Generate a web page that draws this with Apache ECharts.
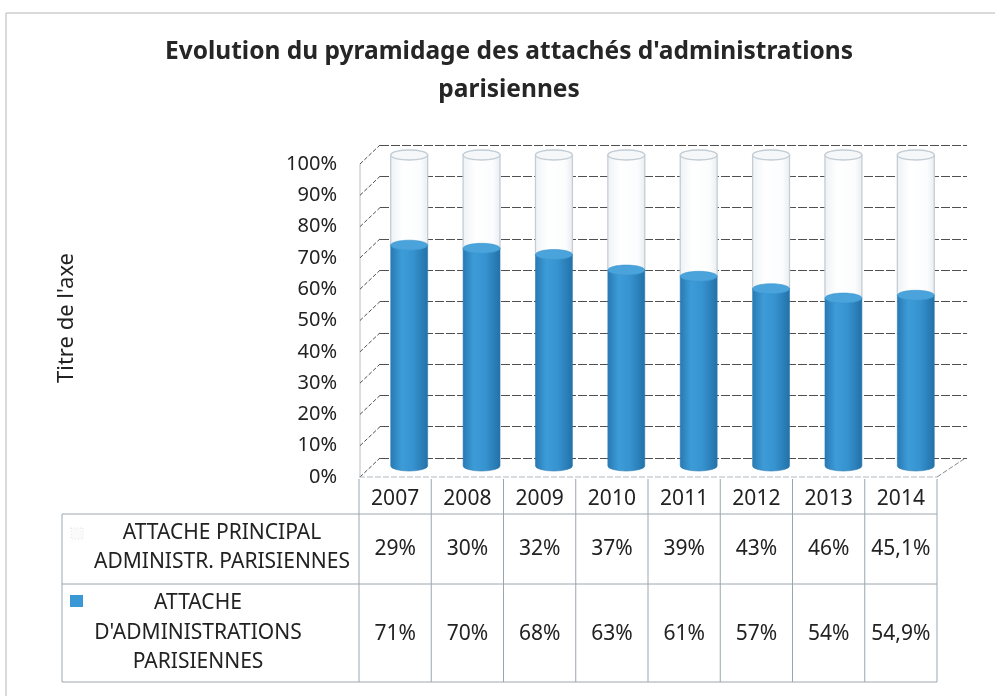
<!DOCTYPE html>
<html><head><meta charset="utf-8">
<script src="https://cdn.jsdelivr.net/npm/echarts@6/dist/echarts.min.js"></script>
<style>html,body{margin:0;padding:0;background:#fff}#c{width:995px;height:696px}</style>
</head><body><div id="c"></div>
<script>
// ---- data ----
const years = ['2007','2008','2009','2010','2011','2012','2013','2014'];
const principal = [29, 30, 32, 37, 39, 43, 46, 45.1];   // ATTACHE PRINCIPAL ADMINISTR. PARISIENNES
const attache   = [71, 70, 68, 63, 61, 57, 54, 54.9];   // ATTACHE D'ADMINISTRATIONS PARISIENNES
const seriesNames = ['ATTACHE PRINCIPAL\nADMINISTR. PARISIENNES', "ATTACHE\nD'ADMINISTRATIONS\nPARISIENNES"];
const yTicks = [0, 10, 20, 30, 40, 50, 60, 70, 80, 90, 100];
const titleText = "Evolution du pyramidage des attachés d'administrations\nparisiennes";
const yAxisTitle = "Titre de l'axe";

// ---- rendering ----
const FONT = "'Noto Sans', 'DejaVu Sans', sans-serif";
const TXT = '#222';
const LINE = '#9aa6ae';
const GRIDC = '#505050';
const fmt = v => String(v).replace('.', ',') + '%';
const chart = echarts.init(document.getElementById('c'), null, {renderer: 'canvas'});

function renderWalls(params, api) {
  const bw = api.size([1, 0])[0];
  const c0 = api.coord([0, 0]);
  const x0 = c0[0] - bw / 2 + 1;
  const xEnd = c0[0] - bw / 2 + bw * years.length;
  const ch = [];
  const top = api.coord([0, yTicks[yTicks.length - 1]])[1];
  ch.push({type: 'line', shape: {x1: x0, y1: top, x2: x0, y2: c0[1]}, style: {stroke: '#b5bec5', lineWidth: 1}});
  yTicks.forEach(v => {
    const y = api.coord([0, v])[1];
    ch.push({type: 'line', shape: {x1: x0, y1: y, x2: x0 + 20, y2: y - 19},
      style: {stroke: GRIDC, lineWidth: 1, lineDash: [4, 2]}});
  });
  ch.push({type: 'line', shape: {x1: xEnd, y1: c0[1], x2: xEnd + 27, y2: c0[1] - 18},
    style: {stroke: '#888', lineWidth: 1, lineDash: [5, 2]}});
  return {type: 'group', children: ch};
}

function renderCyl(params, api) {
  const i = api.value(0), a = api.value(1), p = api.value(2);
  const c0 = api.coord([i, 0]), c1 = api.coord([i, a]), c2 = api.coord([i, a + p]);
  const bw = api.size([1, 0])[0];
  const rx = bw * 0.255, ry = 5;
  const cx = c0[0];
  const body = (yT, yB) => `M${cx - rx} ${yT} L${cx - rx} ${yB} A${rx} ${ry} 0 0 0 ${cx + rx} ${yB} L${cx + rx} ${yT} Z`;
  const whiteGrad = new echarts.graphic.LinearGradient(0, 0, 1, 0, [
    {offset: 0, color: '#eef2f5'}, {offset: 0.35, color: '#ffffff'}, {offset: 0.8, color: '#fbfcfd'}, {offset: 1, color: '#e8edf1'}]);
  const blueGrad = new echarts.graphic.LinearGradient(0, 0, 1, 0, [
    {offset: 0, color: '#2879b2'}, {offset: 0.3, color: '#3d9cd8'}, {offset: 0.6, color: '#3693d0'}, {offset: 1, color: '#2371a8'}]);
  return {type: 'group', children: [
    {type: 'path', shape: {pathData: body(c2[1], c1[1])}, style: {fill: whiteGrad, stroke: '#c2cdd5', lineWidth: 1.3}},
    {type: 'ellipse', shape: {cx: cx, cy: c2[1], rx: rx, ry: ry}, style: {fill: '#f5f7f9', stroke: '#c2cdd5', lineWidth: 1.3}},
    {type: 'path', shape: {pathData: body(c1[1], c0[1])}, style: {fill: blueGrad, stroke: '#2a78ae', lineWidth: 0.6}},
    {type: 'ellipse', shape: {cx: cx, cy: c1[1], rx: rx, ry: ry}, style: {fill: '#4aa3da', stroke: '#3a95cf', lineWidth: 0.6}}
  ]};
}

const ROW1 = 514, ROW2 = 584, ROW3 = 682;
function renderTable(params, api) {
  const i = api.value(0);
  const c = api.coord([i, 0]);
  const bw = api.size([1, 0])[0];
  const xL = c[0] - bw / 2, xR = c[0] + bw / 2;
  const yTop = c[1];
  const ch = [
    {type: 'text', x: c[0], y: (ROW1 + ROW2) / 2, style: {text: fmt(api.value(1)), fontFamily: FONT, fontSize: 21, fill: TXT, align: 'center', verticalAlign: 'middle'}},
    {type: 'text', x: c[0], y: (ROW2 + ROW3) / 2 + 1, style: {text: fmt(api.value(2)), fontFamily: FONT, fontSize: 21, fill: TXT, align: 'center', verticalAlign: 'middle'}},
    {type: 'line', shape: {x1: xR, y1: yTop + 2, x2: xR, y2: ROW3}, style: {stroke: LINE, lineWidth: 1}}
  ];
  if (i === 0) {
    const xEnd = xL + bw * years.length;
    ch.push({type: 'line', shape: {x1: xL, y1: yTop + 2, x2: xL, y2: ROW3}, style: {stroke: LINE, lineWidth: 1}});
    ch.push({type: 'line', shape: {x1: xL, y1: yTop, x2: xEnd, y2: yTop}, style: {stroke: '#b0b9c0', lineWidth: 1, lineDash: [6, 2]}});
    [ROW1, ROW2, ROW3].forEach(y => ch.push({type: 'line', shape: {x1: 62, y1: y, x2: xEnd, y2: y}, style: {stroke: LINE, lineWidth: 1}}));
    ch.push({type: 'line', shape: {x1: 62, y1: ROW1, x2: 62, y2: ROW3}, style: {stroke: LINE, lineWidth: 1}});
  }
  return {type: 'group', children: ch};
}

const option = {
  backgroundColor: '#fff',
  animation: false,
  grid: [
    {left: 359, top: 164, width: 578, height: 313},
    {left: 380, top: 145, width: 587, height: 313},
    {left: 373, top: 155, width: 579, height: 311}
  ],
  xAxis: [
    {gridIndex: 0, type: 'category', data: years, axisLine: {show: false}, axisTick: {show: false},
      axisLabel: {fontFamily: FONT, fontSize: 21, color: TXT, margin: 12}},
    {gridIndex: 1, type: 'category', data: years, show: false},
    {gridIndex: 2, type: 'category', data: years, show: false}
  ],
  yAxis: [
    {gridIndex: 0, type: 'value', min: 0, max: 100, interval: 10,
      axisLabel: {formatter: '{value}%', fontFamily: FONT, fontSize: 20, color: TXT, margin: 22},
      axisLine: {show: false}, axisTick: {show: false}, splitLine: {show: false}},
    {gridIndex: 1, type: 'value', min: 0, max: 100, interval: 10,
      axisLabel: {show: false}, axisLine: {show: false}, axisTick: {show: false},
      splitLine: {show: true, lineStyle: {color: GRIDC, width: 1, type: [9, 2]}}},
    {gridIndex: 2, type: 'value', min: 0, max: 100, interval: 10, show: false, splitLine: {show: false}}
  ],
  series: [
    {type: 'custom', name: 'walls', xAxisIndex: 0, yAxisIndex: 0, data: [[0, 0]], renderItem: renderWalls, silent: true, z: 1},
    {type: 'custom', name: 'cyl', xAxisIndex: 2, yAxisIndex: 2,
      data: years.map((y, i) => [i, attache[i], principal[i]]), encode: {x: 0, y: 1}, renderItem: renderCyl, z: 3},
    {type: 'custom', name: 'table', xAxisIndex: 0, yAxisIndex: 0,
      data: years.map((y, i) => [i, principal[i], attache[i]]), encode: {x: 0, y: 1}, renderItem: renderTable, z: 2}
  ],
  graphic: [
    {type: 'rect', shape: {x: 6, y: 13, width: 1000, height: 700}, style: {fill: 'none', stroke: '#b4b4b4', lineWidth: 1}, silent: true},
    {type: 'text', x: 509, y: 71,
      style: {text: titleText, fontFamily: FONT, fontSize: 24.5, fontWeight: 'bold', fill: '#262626', align: 'center', verticalAlign: 'middle', lineHeight: 38}},
    {type: 'text', x: 67, y: 318, rotation: Math.PI / 2,
      style: {text: yAxisTitle, fontFamily: FONT, fontSize: 22, fill: TXT, align: 'center', verticalAlign: 'middle'}},
    {type: 'rect', shape: {x: 71, y: 528, width: 12, height: 11}, style: {fill: '#fafafa', stroke: '#e4e4e4', lineWidth: 1, lineDash: [1, 2]}},
    {type: 'text', x: 222, y: 548, style: {text: seriesNames[0], fontFamily: FONT, fontSize: 21, fill: TXT, align: 'center', verticalAlign: 'middle', lineHeight: 29}},
    {type: 'rect', shape: {x: 70, y: 595, width: 13, height: 12}, style: {fill: '#3a98d6'}},
    {type: 'text', x: 198, y: 633, style: {text: seriesNames[1], fontFamily: FONT, fontSize: 21, fill: TXT, align: 'center', verticalAlign: 'middle', lineHeight: 29.5}}
  ]
};
chart.setOption(option);
</script>
</body></html>
